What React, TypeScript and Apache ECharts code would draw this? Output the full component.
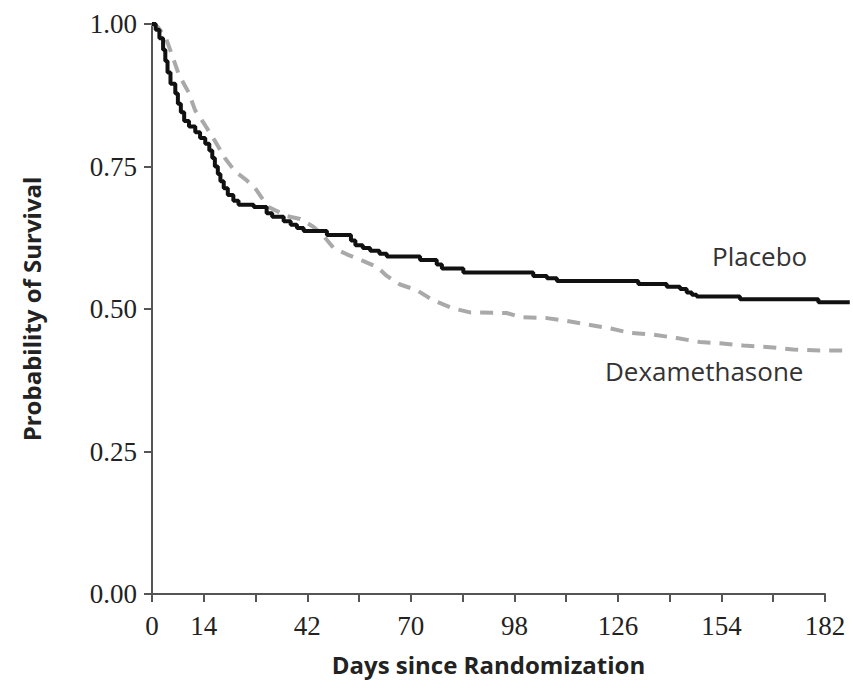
import React, { useEffect, useRef } from "react";
import * as echarts from "echarts";

const xTicks = [0, 14, 42, 70, 98, 126, 154, 182];
const yTicks = [0, 0.25, 0.5, 0.75, 1.0];

// Placebo (Kaplan–Meier step curve): [day, survival probability]
const placebo: [number, number][] = [
  [0, 1.0], [1, 0.99], [2, 0.975], [3, 0.955], [3.6, 0.935], [4.2, 0.915], [5, 0.895],
  [6.3, 0.878], [7, 0.86], [7.8, 0.845], [8.7, 0.83], [10, 0.82], [11.7, 0.81], [13, 0.8],
  [14.4, 0.79], [15.5, 0.778], [16.3, 0.765], [17, 0.75], [17.8, 0.737], [18.5, 0.724],
  [19.4, 0.712], [20.5, 0.7], [22, 0.69], [23.4, 0.683], [27.5, 0.679], [31, 0.668],
  [32.5, 0.662], [35.6, 0.654], [37.5, 0.648], [39.2, 0.642], [41, 0.637], [47.3, 0.63],
  [53.8, 0.62], [55, 0.612], [57, 0.607], [59, 0.602], [61.5, 0.597], [63.5, 0.592],
  [72.5, 0.586], [77, 0.578], [78.4, 0.571], [84.2, 0.564], [103.1, 0.558], [106.8, 0.554],
  [109.5, 0.549], [131.5, 0.544], [139.2, 0.539], [142.8, 0.535], [144.6, 0.529],
  [146, 0.525], [147.3, 0.522], [159, 0.517], [180.2, 0.512], [188.7, 0.512],
];

// Dexamethasone: [day, survival probability]
const dexamethasone: [number, number][] = [
  [0, 1.0], [1.5, 0.995], [3.6, 0.978], [5.4, 0.946], [7.2, 0.912], [9.9, 0.88],
  [11.7, 0.848], [14.4, 0.822], [17.1, 0.794], [19.8, 0.764], [22.5, 0.741], [25.2, 0.728],
  [27.9, 0.712], [29.7, 0.695], [31.5, 0.679], [36.5, 0.663], [40.1, 0.658], [43.7, 0.644],
  [46.4, 0.628], [49.1, 0.607], [52.7, 0.596], [57.2, 0.584], [60.8, 0.574], [63.5, 0.558],
  [67.1, 0.543], [71.6, 0.533], [76.1, 0.515], [81.5, 0.501], [86, 0.494], [95.9, 0.493],
  [99.5, 0.486], [106.8, 0.484], [112.2, 0.479], [118.5, 0.472], [123.9, 0.466],
  [129.3, 0.458], [135.6, 0.455], [141.9, 0.449], [148.2, 0.442], [153.6, 0.44],
  [159.9, 0.436], [167.1, 0.433], [173.4, 0.429], [180.6, 0.427], [188.7, 0.427],
];

const seriesNames = ["Placebo", "Dexamethasone"];
const xTitle = "Days since Randomization";
const yTitle = "Probability of Survival";

export default function App() {
  const ref = useRef<HTMLDivElement>(null);
  useEffect(() => {
    document.body.style.margin = "0";
    const chart = echarts.init(ref.current!, null, { renderer: "svg" });
    const axisColor = "#555";
    const labelFont = "'Liberation Serif', serif";
    const sansFont = "'Open Sans', sans-serif";
    const left = 152;
    const plotW = 673; // 0..182 days
    const extMax = 189;
    const rightExt = 853 - (left + (extMax * plotW) / 182);
    chart.setOption({
      animation: false,
      backgroundColor: "#fff",
      grid: [
        { left, right: 853 - left - plotW, top: 24, bottom: 94 },
        { left, right: rightExt, top: 24, bottom: 94 },
      ],
      xAxis: [
        {
          type: "value",
          gridIndex: 0,
          min: 0,
          max: 182,
          interval: 14,
          splitLine: { show: false },
          axisLine: { lineStyle: { color: axisColor, width: 2 } },
          axisTick: { length: 8, lineStyle: { color: axisColor, width: 2 } },
          axisLabel: {
            margin: 18,
            color: "#222",
            fontFamily: labelFont,
            fontSize: 27,
            formatter: (v: number) => (xTicks.includes(v) ? String(v) : ""),
          },
          name: xTitle,
          nameLocation: "middle",
          nameGap: 58,
          nameTextStyle: { fontFamily: sansFont, fontWeight: "bold", fontSize: 24, color: "#222" },
        },
        {
          type: "value",
          gridIndex: 1,
          min: 0,
          max: extMax,
          show: false,
        },
      ],
      yAxis: [
        {
          type: "value",
          gridIndex: 0,
          min: 0,
          max: 1,
          interval: 0.25,
          splitLine: { show: false },
          axisLine: { lineStyle: { color: axisColor, width: 2 } },
          axisTick: { length: 8, lineStyle: { color: axisColor, width: 2 } },
          axisLabel: {
            margin: 15,
            color: "#222",
            fontFamily: labelFont,
            fontSize: 27,
            formatter: (v: number) => (yTicks.some((t) => Math.abs(t - v) < 1e-9) ? v.toFixed(2) : ""),
          },
          name: yTitle,
          nameLocation: "middle",
          nameGap: 109,
          nameTextStyle: { fontFamily: sansFont, fontWeight: "bold", fontSize: 24, color: "#222" },
        },
        {
          type: "value",
          gridIndex: 1,
          min: 0,
          max: 1,
          show: false,
        },
      ],
      series: [
        {
          name: seriesNames[1],
          type: "line",
          xAxisIndex: 1,
          yAxisIndex: 1,
          data: dexamethasone,
          showSymbol: false,
          lineStyle: { color: "#a9a9a9", width: 4, type: [13, 9] },
          z: 2,
        },
        {
          name: seriesNames[0],
          type: "line",
          xAxisIndex: 1,
          yAxisIndex: 1,
          data: placebo,
          step: "end",
          showSymbol: false,
          lineStyle: { color: "#111", width: 4 },
          z: 3,
        },
      ],
      graphic: [
        {
          type: "text",
          left: 712,
          top: 243,
          style: { text: seriesNames[0], font: `26px ${sansFont}`, fill: "#333" },
        },
        {
          type: "text",
          left: 605,
          top: 358,
          style: { text: seriesNames[1], font: `26px ${sansFont}`, fill: "#333" },
        },
      ],
    });
    return () => chart.dispose();
  }, []);
  return <div ref={ref} style={{ width: 853, height: 688 }} />;
}
